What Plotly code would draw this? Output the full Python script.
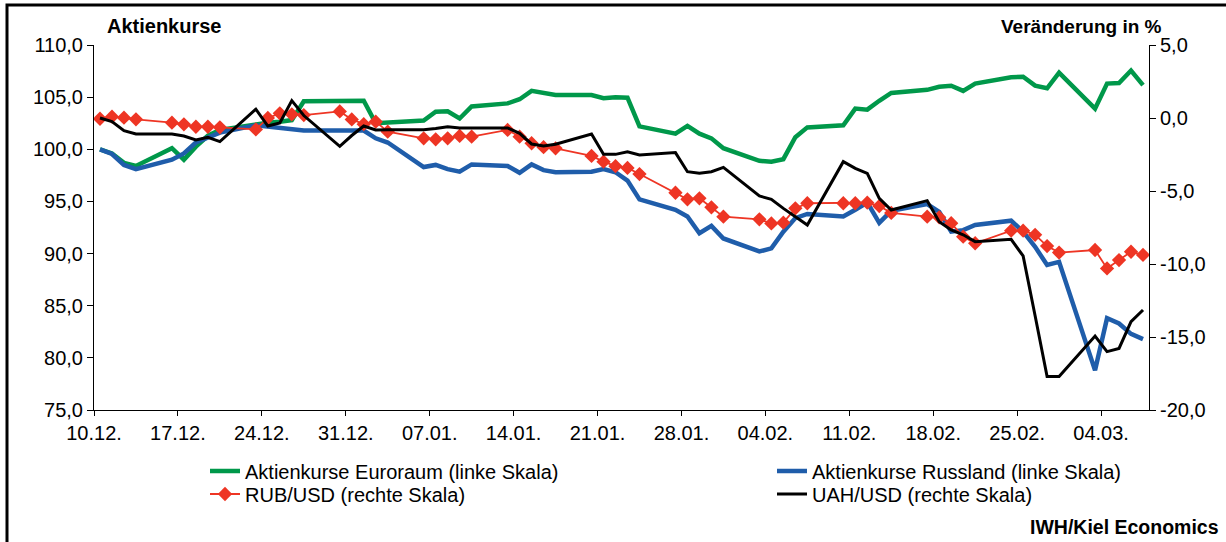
import pandas as pd
import plotly.graph_objects as go

# ---- data -------------------------------------------------------------
dates = [
    "2013-12-10", "2013-12-11", "2013-12-12", "2013-12-13",
    "2013-12-16", "2013-12-17", "2013-12-18", "2013-12-19", "2013-12-20",
    "2013-12-23", "2013-12-24", "2013-12-25", "2013-12-26", "2013-12-27",
    "2013-12-30", "2013-12-31", "2014-01-01", "2014-01-02", "2014-01-03",
    "2014-01-06", "2014-01-07", "2014-01-08", "2014-01-09", "2014-01-10",
    "2014-01-13", "2014-01-14", "2014-01-15", "2014-01-16", "2014-01-17",
    "2014-01-20", "2014-01-21", "2014-01-22", "2014-01-23", "2014-01-24",
    "2014-01-27", "2014-01-28", "2014-01-29", "2014-01-30", "2014-01-31",
    "2014-02-03", "2014-02-04", "2014-02-05", "2014-02-06", "2014-02-07",
    "2014-02-10", "2014-02-11", "2014-02-12", "2014-02-13", "2014-02-14",
    "2014-02-17", "2014-02-18", "2014-02-19", "2014-02-20", "2014-02-21",
    "2014-02-24", "2014-02-25", "2014-02-26", "2014-02-27", "2014-02-28",
    "2014-03-03", "2014-03-04", "2014-03-05", "2014-03-06", "2014-03-07",
]

aktien_euroraum = [
    100.0, 99.6, 98.7, 98.4,
    100.1, 99.0, 100.25, 101.3, 101.85,
    102.4, 102.55, 102.65, 102.8, 104.6,
    104.65, 104.65, 104.65, 102.5, 102.55,
    102.75, 103.6, 103.65, 102.95, 104.1,
    104.4, 104.8, 105.6, 105.35, 105.2,
    105.2, 104.9, 105.0, 104.95, 102.2,
    101.5, 102.25, 101.5, 101.05, 100.1,
    98.9, 98.8, 99.05, 101.15, 102.1,
    102.3, 103.9, 103.8, 104.65, 105.4,
    105.7, 106.0, 106.1, 105.6, 106.3,
    106.9, 106.95, 106.1, 105.85, 107.35,
    103.9, 106.3, 106.35, 107.55, 106.15,
]

aktien_russland = [
    100.0, 99.55, 98.5, 98.1,
    99.0, 99.6, 100.65, 101.15, 101.6,
    102.3, 102.2, 102.0, 102.0, 101.8,
    101.8, 101.8, 101.8, 101.05, 100.65,
    98.3, 98.5, 98.1, 97.85, 98.55,
    98.4, 97.75, 98.55, 98.0, 97.8,
    97.85, 98.1, 97.8, 97.0, 95.2,
    94.2, 93.55, 91.95, 92.65, 91.45,
    90.2, 90.5, 92.1, 93.4, 93.8,
    93.55, 94.2, 94.9, 92.95, 94.1,
    94.75, 94.0, 92.1, 92.25, 92.75,
    93.15, 92.1, 90.65, 88.9, 89.2,
    78.8, 83.8, 83.3, 82.3, 81.8,
]

rub_usd = [
    -0.05, 0.09, 0.02, -0.09,
    -0.32, -0.43, -0.6, -0.6, -0.64,
    -0.78, 0.0, 0.32, 0.25, 0.2,
    0.45, -0.1, -0.42, -0.25, -0.94,
    -1.39, -1.46, -1.39, -1.23, -1.28,
    -0.82, -1.28, -1.73, -2.0, -2.08,
    -2.6, -2.99, -3.3, -3.42, -3.84,
    -5.12, -5.57, -5.5, -6.12, -6.76,
    -6.94, -7.22, -7.17, -6.19, -5.84,
    -5.84, -5.84, -5.8, -6.03, -6.5,
    -6.76, -6.8, -7.21, -8.13, -8.58,
    -7.72, -7.72, -8.0, -8.77, -9.22,
    -9.04, -10.3, -9.73, -9.16, -9.38,
]

uah_usd = [
    0.0, -0.25, -0.87, -1.1,
    -1.1, -1.23, -1.5, -1.32, -1.62,
    0.6, -0.55, -0.34, 1.19, 0.17,
    -1.94, -1.2, -0.55, -0.82, -0.8,
    -0.8, -0.72, -0.6, -0.68, -0.68,
    -0.68, -1.05, -1.78, -1.92, -1.8,
    -1.1, -2.49, -2.49, -2.31, -2.53,
    -2.37, -3.68, -3.79, -3.68, -3.38,
    -5.34, -5.57, -6.19, -6.76, -7.33,
    -2.99, -3.45, -3.79, -5.5, -6.3,
    -5.66, -7.1, -7.67, -8.0, -8.47,
    -8.31, -9.45, -13.55, -17.7, -17.7,
    -14.93, -16.0, -15.78, -13.95, -13.15,
]

tick_dates = ["2013-12-10", "2013-12-17", "2013-12-24", "2013-12-31",
              "2014-01-07", "2014-01-14", "2014-01-21", "2014-01-28",
              "2014-02-04", "2014-02-11", "2014-02-18", "2014-02-25",
              "2014-03-04"]
tick_labels = ["10.12.", "17.12.", "24.12.", "31.12.", "07.01.", "14.01.",
               "21.01.", "28.01.", "04.02.", "11.02.", "18.02.", "25.02.",
               "04.03."]

left_ticks = [75, 80, 85, 90, 95, 100, 105, 110]
right_ticks = [-20, -15, -10, -5, 0, 5]
right_labels = ["-20,0", "-15,0", "-10,0", "-5,0", "0,0", "5,0"]

# ---- figure ---------------------------------------------------------
FONT = "Arial, Liberation Sans, sans-serif"
FS = 20
x = pd.to_datetime(dates)
# Excel-style "between tick marks": ticks sit half a day before each date
tickvals = pd.to_datetime(tick_dates) - pd.Timedelta(hours=12)

W, H = 1226, 542
ML, MR, MT, MB = 94, 77, 45, 132
PW, PH = W - ML - MR, H - MT - MB


def px(xp):
    return (xp - ML) / PW


def py(yp):
    return (H - MB - yp) / PH


fig = go.Figure()
fig.add_trace(go.Scatter(
    x=x, y=aktien_euroraum, name="Aktienkurse Euroraum (linke Skala)",
    mode="lines", line=dict(color="#00984A", width=4.5), legend="legend"))
fig.add_trace(go.Scatter(
    x=x, y=aktien_russland, name="Aktienkurse Russland (linke Skala)",
    mode="lines", line=dict(color="#1F5DAA", width=4.5), legend="legend2"))
fig.add_trace(go.Scatter(
    x=x, y=rub_usd, name="RUB/USD (rechte Skala)", yaxis="y2",
    mode="lines+markers", line=dict(color="#EE3524", width=1.8),
    marker=dict(symbol="diamond", size=11, color="#EE3524"), legend="legend3"))
fig.add_trace(go.Scatter(
    x=x, y=uah_usd, name="UAH/USD (rechte Skala)", yaxis="y2",
    mode="lines", line=dict(color="#000000", width=3), legend="legend4"))


def leg(xpix, ypix):
    return dict(x=px(xpix), y=py(ypix), xanchor="left", yanchor="middle",
                orientation="v", bgcolor="rgba(0,0,0,0)",
                font=dict(size=FS), tracegroupgap=0)


fig.update_layout(
    width=W, height=H,
    margin=dict(l=ML, r=MR, t=MT, b=MB),
    paper_bgcolor="white", plot_bgcolor="white",
    separators=",.",
    font=dict(family=FONT, size=FS, color="black"),
    xaxis=dict(
        type="date",
        range=["2013-12-09 12:00", "2014-03-07 12:00"],
        tickmode="array", tickvals=tickvals, ticktext=tick_labels,
        showline=True, linecolor="black", linewidth=1,
        ticks="outside", ticklen=5, tickcolor="black",
        showgrid=False, zeroline=False,
        tickfont=dict(size=FS),
    ),
    yaxis=dict(
        range=[75, 110], tickmode="array", tickvals=left_ticks,
        tickformat=".1f",
        showline=True, linecolor="black", linewidth=1,
        ticks="outside", ticklen=6, tickcolor="black",
        showgrid=False, zeroline=False,
        tickfont=dict(size=FS),
    ),
    yaxis2=dict(
        range=[-20, 5], overlaying="y", side="right",
        tickmode="array", tickvals=right_ticks, ticktext=right_labels,
        showline=True, linecolor="black", linewidth=1,
        ticks="outside", ticklen=6, tickcolor="black",
        showgrid=False, zeroline=False,
        tickfont=dict(size=FS),
    ),
    legend=leg(205, 471),
    legend2=leg(772, 471),
    legend3=leg(205, 494),
    legend4=leg(772, 494),
    showlegend=True,
)

fig.add_annotation(text="<b>Aktienkurse</b>", xref="paper", yref="paper",
                   x=px(105), y=py(26), xanchor="left", yanchor="middle",
                   showarrow=False, font=dict(size=FS))
fig.add_annotation(text="<b>Veränderung in %</b>", xref="paper", yref="paper",
                   x=px(1164), y=py(26), xanchor="right", yanchor="middle",
                   showarrow=False, font=dict(size=19))
fig.add_annotation(text="<b>IWH/Kiel Economics</b>", xref="paper", yref="paper",
                   x=px(1221), y=py(527), xanchor="right", yanchor="middle",
                   showarrow=False, font=dict(size=19.5))

# outer frame of the figure
fig.add_shape(type="rect", xref="paper", yref="paper",
              x0=px(7), x1=px(1240), y0=py(560), y1=py(5),
              line=dict(color="black", width=3), fillcolor="rgba(0,0,0,0)",
              layer="above")

fig.write_html("out.html",
               config={"displayModeBar": False},
               post_script="document.body.style.margin='0px';"
                           "document.body.style.padding='0px';")
